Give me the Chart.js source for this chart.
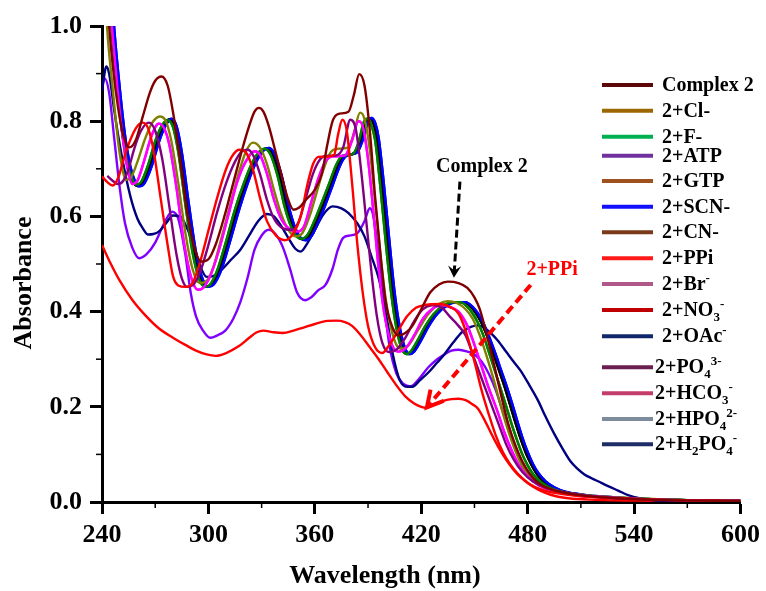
<!DOCTYPE html>
<html>
<head>
<meta charset="utf-8">
<script src="https://cdn.jsdelivr.net/npm/chart.js@4/dist/chart.umd.min.js"></script>
<style>
  html, body { margin: 0; padding: 0; background: #fff; }
  #wrap { width: 766px; height: 591px; }
</style>
</head>
<body>
<div id="wrap"><canvas id="c" width="766" height="591"></canvas></div>
<script>
// ---------- DATA (wavelength nm, absorbance) ----------
const complex2 = [[240,1.25],[243,1.05],[246,0.92],[249,0.83],[252,0.77],[255.5,0.745],[259,0.76],[263,0.81],[267,0.86],[270,0.885],[273.5,0.894],[277,0.875],[280,0.82],[284,0.72],[288,0.61],[292,0.535],[296,0.505],[300,0.51],[304,0.54],[309,0.6],[314,0.67],[319,0.74],[323,0.79],[326,0.82],[328.5,0.828],[331,0.82],[334,0.79],[338,0.733],[342,0.675],[345,0.635],[348,0.614],[351,0.618],[355,0.635],[360,0.656],[364,0.69],[367,0.75],[370,0.8],[373,0.815],[379,0.82],[382,0.855],[385,0.899],[388,0.875],[391,0.78],[394,0.64],[397,0.52],[400,0.42],[404,0.365],[407,0.35],[411,0.355],[415,0.37],[420,0.405],[425,0.44],[430,0.457],[435,0.463],[441,0.46],[446,0.45],[450,0.43],[453,0.405],[457,0.35],[461,0.29],[465,0.225],[469,0.165],[473,0.12],[477,0.085],[481,0.06],[486,0.04],[492,0.028],[500,0.02],[510,0.014],[530,0.008],[560,0.004],[600,0.002]];
const cl = [[240,1.2],[243,0.99],[246,0.87],[249,0.76],[251,0.71],[253.5,0.677],[256,0.68],[260,0.715],[264,0.76],[268,0.795],[272.6,0.81],[276,0.8],[279,0.76],[283,0.67],[287,0.565],[291,0.49],[295,0.46],[298,0.462],[302,0.485],[307,0.55],[312,0.62],[317,0.69],[321,0.735],[325,0.755],[329,0.745],[333,0.71],[337,0.655],[341,0.605],[345,0.572],[349,0.558],[353,0.565],[357,0.6],[361,0.65],[365,0.7],[369,0.735],[373,0.742],[379,0.745],[382,0.775],[385.5,0.818],[388,0.805],[391,0.74],[394,0.63],[397,0.52],[400,0.425],[403,0.365],[406,0.33],[409,0.322],[413,0.33],[418,0.36],[424,0.395],[430,0.416],[435,0.422],[440,0.418],[445,0.405],[449,0.385],[453,0.35],[457,0.305],[461,0.255],[465,0.2],[469,0.15],[473,0.108],[477,0.075],[482,0.05],[488,0.034],[495,0.025],[505,0.018],[520,0.012],[545,0.007],[570,0.004],[600,0.002]];
const f = [[240,1.35],[243,1.12],[246,0.97],[249,0.85],[252,0.76],[255,0.7],[257.5,0.675],[259,0.667],[262,0.672],[266,0.708],[270,0.758],[274,0.792],[277,0.802],[280,0.788],[283,0.735],[287,0.625],[291,0.525],[295,0.466],[298.3,0.452],[301,0.457],[305,0.487],[310,0.548],[315,0.615],[320,0.67],[325,0.715],[329,0.737],[331.5,0.742],[335,0.73],[339,0.685],[343,0.62],[347,0.575],[350,0.557],[352.7,0.553],[356,0.562],[360,0.593],[364,0.63],[368,0.668],[372,0.708],[375,0.726],[379,0.729],[382,0.733],[385,0.76],[387.5,0.797],[389.5,0.805],[391.5,0.795],[394,0.76],[397,0.66],[400,0.545],[403,0.44],[406,0.365],[409,0.322],[411.7,0.311],[414,0.316],[418,0.34],[422,0.368],[427,0.395],[433,0.414],[438,0.42],[442,0.42],[446,0.41],[449,0.396],[452,0.376],[455,0.35],[459,0.305],[462,0.27],[465,0.235],[468,0.2],[471,0.163],[474,0.13],[477,0.1],[480,0.077],[483,0.059],[487,0.043],[492,0.031],[498,0.023],[507,0.016],[520,0.011],[540,0.007],[570,0.004],[600,0.002]];
const atp = [[240,0.874],[241.5,0.89],[244,0.86],[247,0.76],[250,0.66],[253,0.585],[257,0.535],[261,0.512],[265,0.52],[270,0.545],[275,0.585],[279.5,0.61],[283,0.595],[287,0.52],[290,0.44],[293,0.39],[297,0.36],[301,0.345],[305,0.35],[309.5,0.36],[314,0.385],[318,0.42],[322,0.47],[326,0.53],[330,0.56],[334,0.572],[338,0.562],[342,0.535],[346,0.49],[350,0.44],[354.5,0.424],[358,0.43],[362,0.445],[366,0.456],[370,0.49],[373,0.53],[376,0.555],[380,0.56],[384,0.565],[388,0.59],[391,0.617],[393,0.6],[396,0.52],[399,0.42],[402,0.33],[406,0.27],[410,0.248],[414,0.243],[419,0.26],[424,0.283],[429,0.3],[433,0.31],[437,0.318],[441,0.32],[446,0.316],[450,0.31],[454,0.295],[458,0.27],[462,0.235],[466,0.19],[470,0.145],[474,0.105],[478,0.075],[483,0.05],[489,0.032],[496,0.022],[505,0.015],[520,0.01],[545,0.006],[575,0.003],[600,0.002]];
const gtp = [[240,1.38],[243,1.14],[246,0.98],[249,0.86],[252,0.765],[255,0.7],[257.5,0.673],[260,0.664],[263,0.67],[267,0.706],[271,0.756],[275,0.792],[278,0.804],[281,0.79],[284,0.735],[288,0.625],[292,0.525],[296,0.466],[299,0.452],[302,0.457],[306,0.486],[311,0.546],[316,0.612],[321,0.669],[326,0.715],[330,0.738],[333,0.743],[336,0.732],[340,0.688],[344,0.623],[348,0.575],[351,0.556],[354,0.551],[357,0.56],[361,0.59],[365,0.627],[369,0.666],[373,0.706],[376,0.725],[380,0.73],[383,0.734],[386,0.76],[389,0.798],[391,0.806],[393,0.796],[395,0.763],[398,0.662],[401,0.548],[404,0.44],[407,0.365],[410,0.322],[412.5,0.311],[415,0.316],[419,0.34],[423,0.368],[428,0.395],[434,0.414],[439,0.42],[444,0.42],[448,0.41],[451,0.396],[454,0.376],[457,0.35],[461,0.308],[464,0.275],[467,0.242],[470,0.205],[473,0.168],[476,0.133],[479,0.103],[482,0.079],[485,0.06],[489,0.043],[494,0.031],[500,0.022],[509,0.016],[520,0.011],[540,0.007],[570,0.004],[600,0.002]];
const scn = [[240,1.4],[244,1.15],[247,0.99],[250,0.87],[253,0.77],[256,0.705],[258.5,0.675],[261,0.663],[264,0.67],[268,0.705],[272,0.755],[276,0.792],[279,0.805],[282,0.79],[285,0.735],[289,0.625],[293,0.525],[297,0.466],[300,0.452],[303,0.457],[307,0.485],[312,0.545],[317,0.61],[322,0.668],[327,0.715],[331,0.738],[334,0.744],[337,0.733],[341,0.69],[345,0.625],[349,0.575],[352,0.555],[355,0.55],[358,0.558],[362,0.588],[366,0.625],[370,0.665],[374,0.705],[377,0.725],[381,0.731],[384,0.735],[387,0.76],[390,0.798],[392,0.807],[394,0.797],[396,0.765],[399,0.665],[402,0.55],[405,0.44],[408,0.365],[411,0.322],[413.5,0.311],[416,0.316],[420,0.34],[424,0.368],[429,0.395],[435,0.414],[440,0.42],[445,0.42],[449,0.41],[452,0.396],[455,0.376],[458,0.35],[462,0.31],[465,0.277],[468,0.245],[471,0.21],[474,0.172],[477,0.136],[480,0.105],[483,0.08],[486,0.061],[490,0.044],[495,0.031],[501,0.022],[510,0.016],[520,0.012],[540,0.007],[570,0.004],[600,0.002]];
const cn = f;       // indistinguishable from the F- trace in the figure
const ppi = [[240,0.54],[245,0.5],[250,0.465],[257,0.425],[265,0.39],[272,0.365],[280,0.345],[287,0.33],[293,0.318],[299,0.31],[304,0.307],[310,0.313],[317,0.327],[323,0.345],[327,0.356],[331,0.36],[336,0.357],[342,0.355],[348,0.36],[354,0.367],[360,0.374],[366,0.38],[372,0.381],[377,0.378],[381,0.37],[386,0.35],[391,0.325],[396,0.3],[401,0.272],[406,0.245],[411,0.222],[416,0.207],[420,0.2],[423,0.198],[427,0.205],[432,0.212],[437,0.216],[441,0.217],[445,0.214],[449,0.205],[452,0.196],[456,0.17],[460,0.14],[464,0.112],[468,0.088],[472,0.068],[476,0.052],[480,0.04],[485,0.028],[490,0.019],[496,0.012],[503,0.008],[515,0.005],[540,0.003],[570,0.002],[600,0.001]];
const br = [[240,1.3],[244,1.07],[247,0.94],[250,0.82],[253,0.73],[255,0.69],[257,0.668],[260,0.675],[264,0.72],[268,0.77],[272,0.795],[275,0.785],[278,0.75],[282,0.66],[286,0.55],[290,0.475],[294,0.446],[297,0.45],[301,0.475],[306,0.53],[311,0.6],[316,0.67],[321,0.715],[326,0.737],[329,0.73],[333,0.69],[337,0.635],[341,0.595],[346,0.572],[350,0.568],[354,0.58],[358,0.63],[362,0.68],[366,0.715],[370,0.726],[377,0.728],[381,0.76],[384.5,0.8],[387,0.79],[390,0.72],[393,0.61],[396,0.49],[399,0.4],[403,0.335],[407,0.316],[411,0.322],[416,0.35],[421,0.385],[426,0.405],[431,0.413],[436,0.41],[441,0.4],[446,0.37],[450,0.33],[454,0.285],[458,0.24],[463,0.19],[467,0.145],[471,0.108],[475,0.078],[480,0.054],[486,0.036],[493,0.025],[503,0.017],[520,0.011],[545,0.006],[575,0.003],[600,0.002]];
const no3 = [[240,0.684],[243,0.672],[246,0.665],[249,0.68],[253,0.73],[257,0.77],[260,0.79],[263,0.797],[266,0.785],[269,0.74],[273,0.64],[277,0.54],[280,0.475],[283,0.455],[287,0.452],[291,0.46],[295,0.5],[300,0.57],[305,0.64],[310,0.7],[314,0.73],[317.5,0.74],[321,0.735],[325,0.7],[329,0.64],[333,0.59],[338,0.56],[343,0.55],[348,0.565],[352,0.6],[356,0.67],[359,0.71],[362,0.725],[368,0.726],[371,0.73],[373,0.77],[375.5,0.803],[378,0.78],[381,0.67],[384,0.54],[387,0.44],[390,0.37],[394,0.325],[398,0.313],[402,0.33],[407,0.36],[412,0.39],[417,0.408],[421,0.413],[431,0.416],[436,0.41],[441,0.396],[445,0.36],[450,0.295],[454,0.235],[458,0.185],[462,0.14],[466,0.105],[470,0.08],[475,0.057],[481,0.038],[488,0.026],[497,0.018],[510,0.012],[530,0.008],[560,0.004],[600,0.002]];
const oac = [[240,0.864],[242.5,0.915],[244,0.9],[247,0.82],[251,0.73],[256,0.642],[260,0.595],[263,0.575],[266,0.562],[269,0.563],[272,0.568],[276,0.585],[280,0.602],[284,0.6],[288,0.575],[292,0.535],[296,0.49],[299,0.473],[303,0.475],[308,0.49],[313,0.51],[318,0.53],[323,0.56],[328,0.59],[333,0.605],[337,0.6],[341,0.58],[345,0.555],[349,0.532],[352,0.526],[356,0.545],[360,0.572],[365,0.605],[370,0.621],[375,0.617],[379,0.607],[384,0.585],[388,0.558],[392,0.515],[396,0.47],[400,0.4],[404,0.31],[408,0.255],[412,0.242],[415,0.242],[419,0.255],[424,0.272],[429,0.293],[433,0.31],[438,0.335],[443,0.357],[448,0.368],[452,0.371],[457,0.362],[463,0.34],[468,0.315],[472,0.295],[476,0.276],[481,0.245],[486,0.212],[490,0.18],[495,0.143],[500,0.11],[504,0.086],[508,0.07],[512,0.058],[516,0.05],[520,0.043],[525,0.034],[531,0.024],[537,0.014],[543,0.008],[550,0.004],[560,0.002],[580,0.001],[600,0.001]];
const po4 = [[243,0.685],[246,0.675],[249,0.668],[252,0.675],[255,0.7],[258,0.74],[262,0.78],[266.5,0.797],[270,0.78],[274,0.72],[278,0.62],[282,0.52],[285,0.47],[288,0.452],[291,0.455],[295,0.48],[300,0.54],[305,0.61],[310,0.67],[315,0.715],[319,0.737],[322,0.74],[325,0.73],[329,0.69],[333,0.635],[337,0.595],[342,0.575],[347,0.572],[351,0.59],[355,0.64],[359,0.69],[363,0.72],[366,0.727],[372,0.728],[376,0.745],[380,0.803],[383,0.785],[386,0.7],[389,0.59],[392,0.48],[395,0.39],[398,0.335],[402,0.315],[406,0.32],[411,0.345],[416,0.38],[421,0.405],[426,0.413],[431,0.41],[436,0.39],[441,0.37],[445,0.35],[450,0.3],[455,0.25],[460,0.2],[464,0.16],[468,0.12],[472,0.09],[477,0.063],[483,0.043],[490,0.03],[498,0.022],[508,0.016],[520,0.011],[545,0.006],[575,0.003],[600,0.002]];
const hco3 = br;    // indistinguishable from the Br- trace
const hpo4 = scn;   // indistinguishable from the SCN- trace
const h2po4 = gtp;  // indistinguishable from the GTP trace

const seriesNames = ['Complex 2','2+Cl-','2+F-','2+ATP','2+GTP','2+SCN-','2+CN-','2+PPi','2+Br^{-}','2+NO_{3}^{-}','2+OAc^{-}','2+PO_{4}^{3-}','2+HCO_{3}^{-}','2+HPO_{4}^{2-}','2+H_{2}PO_{4}^{-}'];
const seriesData = [complex2, cl, f, atp, gtp, scn, cn, ppi, br, no3, oac, po4, hco3, hpo4, h2po4];
const lineColors   = ['#800000','#808000','#008000','#8000ff','#000000','#0000ff','#008000','#ff0000','#ff00ff','#ff0000','#000080','#800080','#ff00ff','#0000ff','#000000'];
const legendColors = ['#5c0808','#9a6700','#00b050','#7030a0','#a0521e','#1010ff','#7a3a1a','#ff1a1a','#b0588a','#c00000','#10286a','#6b1f50','#c43c6c','#7d8c9c','#1f2d66'];
// drawing order (first = on top)
const drawOrder = [0, 9, 11, 8, 1, 2, 5, 4, 10, 3, 7, 6, 12, 13, 14];

const xTicksMajor = [240,300,360,420,480,540,600];
const xTicksMinor = [270,330,390,450,510,570];
const yTicksMinor = [0.1,0.3,0.5,0.7,0.9];

const FONT = '"Liberation Serif","Times New Roman",serif';

// annotation anchors in data units
const annotations = {
  complexText: {x: 454.2, y: 0.705, text: 'Complex 2', color: '#000'},
  complexArrow: {x0: 441.8, y0: 0.673, x1: 438.4, y1: 0.471, color: '#000'},
  ppiText: {x: 493.8, y: 0.488, text: '2+PPi', color: '#ff0000'},
  ppiArrow: {x0: 481.7, y0: 0.456, x1: 423.2, y1: 0.199, color: '#ff0000'}
};

const datasets = drawOrder.map((i, k) => ({
  label: seriesNames[i].replace(/[_^{}]/g, ''),
  data: seriesData[i],
  borderColor: lineColors[i],
  backgroundColor: lineColors[i],
  borderWidth: 2.4,
  pointRadius: 0,
  fill: false,
  cubicInterpolationMode: 'monotone',
  order: k
}));

function drawRich(ctx, str, x, baseY, size, color) {
  const parts = str.split(/(_\{[^}]*\}|\^\{[^}]*\})/).filter(s => s.length);
  let cx = x;
  ctx.fillStyle = color;
  ctx.textAlign = 'left';
  ctx.textBaseline = 'alphabetic';
  for (const p of parts) {
    let txt = p, fs = size, dy = 0;
    if (p.startsWith('_{')) { txt = p.slice(2, -1); fs = Math.round(size * 0.65); dy = 5; }
    else if (p.startsWith('^{')) { txt = p.slice(2, -1); fs = Math.round(size * 0.65); dy = -8; }
    ctx.font = '700 ' + fs + 'px ' + FONT;
    ctx.fillText(txt, cx, baseY + dy);
    cx += ctx.measureText(txt).width;
  }
}

const overlay = {
  id: 'overlay',
  beforeDraw(chart) {
    const ctx = chart.ctx;
    ctx.save();
    ctx.fillStyle = '#fff';
    ctx.fillRect(0, 0, chart.width, chart.height);
    ctx.restore();
  },
  afterDraw(chart) {
    const ctx = chart.ctx, xs = chart.scales.x, ys = chart.scales.y, ca = chart.chartArea;
    ctx.save();
    // minor ticks
    ctx.strokeStyle = '#000';
    ctx.lineWidth = 1.5;
    xTicksMinor.forEach(v => {
      const px = xs.getPixelForValue(v);
      ctx.beginPath(); ctx.moveTo(px, ca.bottom); ctx.lineTo(px, ca.bottom + 6); ctx.stroke();
    });
    yTicksMinor.forEach(v => {
      const py = ys.getPixelForValue(v);
      ctx.beginPath(); ctx.moveTo(ca.left, py); ctx.lineTo(ca.left - 6, py); ctx.stroke();
    });
    // axis titles
    ctx.fillStyle = '#000';
    ctx.font = '700 26px ' + FONT;
    ctx.textAlign = 'center';
    ctx.textBaseline = 'alphabetic';
    ctx.fillText('Wavelength (nm)', 385, 583);
    ctx.save();
    ctx.translate(31, 283);
    ctx.rotate(-Math.PI / 2);
    ctx.fillText('Absorbance', 0, 0);
    ctx.restore();

    // legend
    const legY = [85,110.7,136.7,155.7,181,206.7,232.3,258.3,284,310,336.3,367.3,393.3,419,444.3];
    seriesNames.forEach((name, i) => {
      const y = legY[i];
      ctx.strokeStyle = legendColors[i];
      ctx.lineWidth = 4;
      ctx.setLineDash([]);
      ctx.beginPath(); ctx.moveTo(602, y); ctx.lineTo(653, y); ctx.stroke();
      drawRich(ctx, name, i >= 11 ? 655 : 662, y + 6, 20, '#000');
    });

    // annotations
    function arrow(a, lw, dash, head, filled) {
      const x0 = xs.getPixelForValue(a.x0), y0 = ys.getPixelForValue(a.y0);
      const x1 = xs.getPixelForValue(a.x1), y1 = ys.getPixelForValue(a.y1);
      const ang = Math.atan2(y1 - y0, x1 - x0);
      const ux = Math.cos(ang), uy = Math.sin(ang);
      ctx.strokeStyle = a.color; ctx.fillStyle = a.color;
      ctx.lineWidth = lw;
      ctx.setLineDash(dash);
      ctx.beginPath(); ctx.moveTo(x0, y0); ctx.lineTo(x1 - ux * 3, y1 - uy * 3); ctx.stroke();
      ctx.setLineDash([]);
      const hx = x1 - ux * head, hy = y1 - uy * head;
      const px = -uy * head * 0.55, py = ux * head * 0.55;
      if (filled) {
        ctx.beginPath();
        ctx.moveTo(x1, y1);
        ctx.lineTo(hx + px, hy + py);
        ctx.lineTo(x1 - ux * head * 0.6, y1 - uy * head * 0.6);
        ctx.lineTo(hx - px, hy - py);
        ctx.closePath(); ctx.fill();
      } else {
        ctx.lineCap = 'square';
        ctx.beginPath();
        ctx.moveTo(hx + px, hy + py); ctx.lineTo(x1, y1); ctx.lineTo(hx - px, hy - py);
        ctx.stroke();
        ctx.lineCap = 'butt';
      }
    }
    arrow(annotations.complexArrow, 3, [8, 4], 12, true);
    arrow(annotations.ppiArrow, 4, [9, 5], 14, false);
    ctx.font = '700 20px ' + FONT;
    ctx.textAlign = 'center';
    ctx.textBaseline = 'middle';
    [annotations.complexText, annotations.ppiText].forEach(t => {
      ctx.fillStyle = t.color;
      ctx.fillText(t.text, xs.getPixelForValue(t.x), ys.getPixelForValue(t.y));
    });
    ctx.restore();
  }
};

const tickFont = { family: FONT, size: 26, weight: 'bold' };

new Chart(document.getElementById('c'), {
  type: 'line',
  data: { datasets },
  options: {
    responsive: false,
    animation: false,
    devicePixelRatio: 1,
    layout: { padding: { top: 26, right: 23, left: 0, bottom: 0 } },
    plugins: { legend: { display: false }, tooltip: { enabled: false } },
    scales: {
      x: {
        type: 'linear', min: 240, max: 600,
        afterBuildTicks: s => { s.ticks = xTicksMajor.map(v => ({ value: v })); },
        afterFit: s => { s.height = 89; },
        ticks: { font: tickFont, color: '#000', padding: 6, maxRotation: 0, autoSkip: false },
        grid: { drawOnChartArea: false, drawTicks: true, tickLength: 12, tickWidth: 3, tickColor: '#000' },
        border: { display: true, color: '#000', width: 3 }
      },
      y: {
        type: 'linear', min: 0, max: 1,
        ticks: { stepSize: 0.2, font: tickFont, color: '#000', padding: 8, callback: v => v.toFixed(1) },
        afterFit: s => { s.width = 102; },
        grid: { drawOnChartArea: false, drawTicks: true, tickLength: 12, tickWidth: 3, tickColor: '#000' },
        border: { display: true, color: '#000', width: 3 }
      }
    }
  },
  plugins: [overlay]
});
</script>
</body>
</html>
